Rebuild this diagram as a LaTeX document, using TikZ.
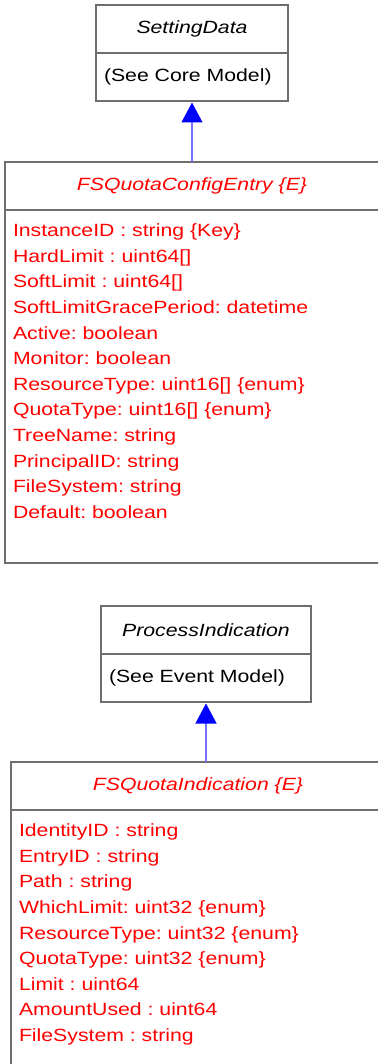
\documentclass[tikz,border=0pt]{standalone}
\usepackage{fontspec}
\setmainfont{Liberation Sans}[FakeStretch=1.2]
\frenchspacing
\usetikzlibrary{arrows.meta, positioning}

\definecolor{umlgray}{RGB}{110,110,110}
\definecolor{linkblue}{RGB}{115,115,255}

\begin{document}
\begin{tikzpicture}[
  x=1pt, y=1pt,
  font=\fontsize{17.7}{25.6}\selectfont,
  classname/.style = {draw=umlgray, line width=1.5pt, outer sep=0pt, minimum height=48pt, font=\fontsize{17.7}{25.6}\selectfont\itshape},
  classbody/.style = {draw=umlgray, line width=1.5pt, outer sep=0pt, align=left, inner xsep=8pt, inner ysep=0pt},
  attrs/.style = {classbody, text=red, text height=26.7pt},
  inherit/.style = {linkblue, line width=1.3pt, shorten >=1.5pt, -{Triangle[width=21pt, length=20pt, color=blue]}},
  node distance=0pt
]
  \useasboundingbox (0,0) rectangle (377,-1064);

  % SettingData
  \node[classname, minimum width=192pt] (setting) at (192,-29) {SettingData};
  \node[classbody, below=of setting, text width=176pt, minimum height=48pt] (settingbody) {(See Core Model)};

  % FSQuotaConfigEntry
  \node[classname, text=red, minimum width=374pt, below=61pt of settingbody] (config) {FSQuotaConfigEntry \{E\}};
  \node[attrs, below=of config, text width=358pt, text depth=326.3pt] (configbody) {%
    InstanceID : string \{Key\}\\
    HardLimit : uint64[]\\
    SoftLimit : uint64[]\\
    SoftLimitGracePeriod: datetime\\
    Active: boolean\\
    Monitor: boolean\\
    ResourceType: uint16[] \{enum\}\\
    QuotaType: uint16[] \{enum\}\\
    TreeName: string\\
    PrincipalID: string\\
    FileSystem: string\\
    Default: boolean};

  \draw[inherit] (config.north -| settingbody.south) -- (settingbody.south);

  % ProcessIndication
  \node[classname, minimum width=210pt, below=43pt of configbody, xshift=14pt] (process) {ProcessIndication};
  \node[classbody, below=of process, text width=194pt, minimum height=48pt] (processbody) {(See Event Model)};

  % FSQuotaIndication
  \node[classname, text=red, minimum width=374pt, below=60pt of processbody, xshift=-8pt] (indication) {FSQuotaIndication \{E\}};
  \node[attrs, below=of indication, text width=358pt, text depth=238.3pt] (indicationbody) {%
    IdentityID : string\\
    EntryID : string\\
    Path : string\\
    WhichLimit: uint32 \{enum\}\\
    ResourceType: uint32 \{enum\}\\
    QuotaType: uint32 \{enum\}\\
    Limit : uint64\\
    AmountUsed : uint64\\
    FileSystem : string};

  \draw[inherit] (indication.north -| processbody.south) -- (processbody.south);
\end{tikzpicture}
\end{document}
